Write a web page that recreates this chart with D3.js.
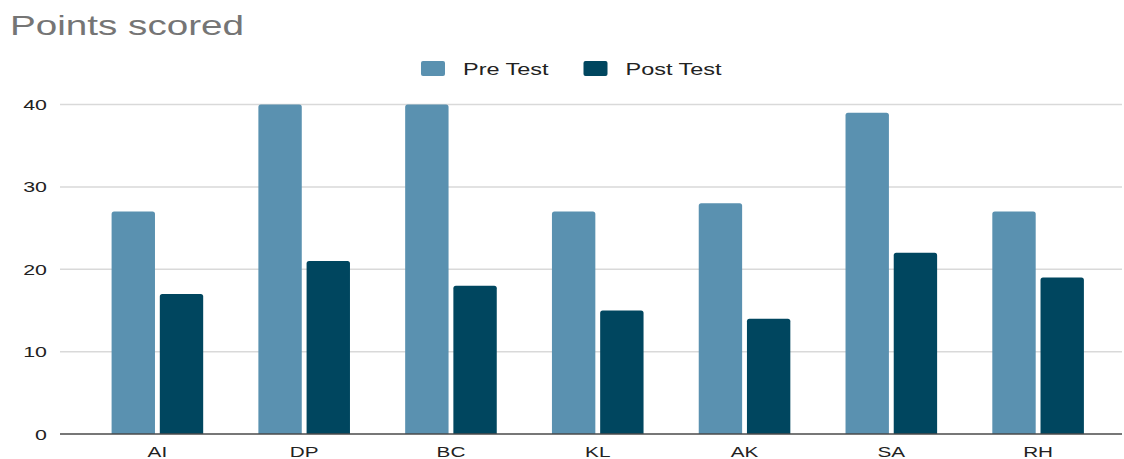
<!DOCTYPE html>
<html>
<head>
<meta charset="utf-8">
<script src="https://cdn.jsdelivr.net/npm/d3@7"></script>
<style>
  html, body { margin: 0; padding: 0; background: #fff; }
  svg { display: block; font-family: "Liberation Sans", Arial, sans-serif; }
</style>
</head>
<body>
<svg id="chart" width="1124" height="459"></svg>
<script>
// Scores per student
const students = ["AI", "DP", "BC", "KL", "AK", "SA", "RH"];
const preTest  = [27, 40, 40, 27, 28, 39, 27];
const postTest = [17, 21, 18, 15, 14, 22, 19];
const seriesNames = ["Pre Test", "Post Test"];
const seriesColors = ["#5a91b0", "#00465f"];
const yTicks = [0, 10, 20, 30, 40];

// Text is drawn slightly widened horizontally
const STRETCH = 1.38;

const svg = d3.select("#chart");

const plotLeft = 60, plotRight = 1122, plotTop = 104.5, plotBottom = 434;

const y = d3.scaleLinear().domain([0, 40]).range([plotBottom, plotTop]);

const x0 = d3.scaleBand()
  .domain(students)
  .range([84, 1111.5])
  .paddingInner(0.376)
  .paddingOuter(0.188);

const x1 = d3.scaleBand()
  .domain(seriesNames)
  .range([0, x0.bandwidth()])
  .paddingInner(0.1);

function stretchedText(sel, x, yPos, anchor) {
  return sel.append("text")
    .attr("transform", `translate(${x},${yPos}) scale(${STRETCH},1)`)
    .attr("text-anchor", anchor);
}

// Title
stretchedText(svg, 10, 35, "start")
  .attr("font-size", 28)
  .attr("fill", "#757575")
  .text("Points scored");

// Legend
const legendX = [421, 583.5];
seriesNames.forEach((name, k) => {
  svg.append("rect")
    .attr("x", legendX[k]).attr("y", 61)
    .attr("width", 24).attr("height", 15)
    .attr("rx", 2).attr("ry", 2)
    .attr("fill", seriesColors[k]);
  stretchedText(svg, legendX[k] + 42, 75, "start")
    .attr("font-size", 17)
    .attr("fill", "#222")
    .text(name);
});

// Gridlines
svg.append("g")
  .selectAll("line")
  .data(yTicks.filter(t => t !== 0))
  .join("line")
  .attr("x1", plotLeft).attr("x2", plotRight)
  .attr("y1", d => y(d)).attr("y2", d => y(d))
  .attr("stroke", "#d9d9d9")
  .attr("stroke-width", 1.5);

// Y axis labels
const yLabels = svg.append("g");
yTicks.forEach(t => {
  stretchedText(yLabels, 47, y(t) + 5.5, "end")
    .attr("font-size", 15.5)
    .attr("fill", "#222")
    .text(t);
});

// Bars
const rows = students.map((s, i) => ({ student: s, values: [preTest[i], postTest[i]] }));

function topRoundedRect(x, yTop, w, h, r) {
  r = Math.min(r, h, w / 2);
  return `M${x},${yTop + h}V${yTop + r}Q${x},${yTop} ${x + r},${yTop}` +
         `H${x + w - r}Q${x + w},${yTop} ${x + w},${yTop + r}V${yTop + h}Z`;
}

const groups = svg.append("g")
  .selectAll("g")
  .data(rows)
  .join("g")
  .attr("transform", d => `translate(${x0(d.student)},0)`);

groups.selectAll("path")
  .data(d => d.values.map((v, k) => ({ series: seriesNames[k], value: v, color: seriesColors[k] })))
  .join("path")
  .attr("d", d => topRoundedRect(x1(d.series), y(d.value), x1.bandwidth(), y(0) - y(d.value), 2.5))
  .attr("fill", d => d.color);

// Baseline
svg.append("line")
  .attr("x1", plotLeft).attr("x2", plotRight)
  .attr("y1", y(0)).attr("y2", y(0))
  .attr("stroke", "#4a4a4a")
  .attr("stroke-width", 1.5);

// Category labels
students.forEach(s => {
  stretchedText(svg, x0(s) + x0.bandwidth() / 2, 457, "middle")
    .attr("font-size", 15)
    .attr("fill", "#222")
    .text(s);
});
</script>
</body>
</html>
